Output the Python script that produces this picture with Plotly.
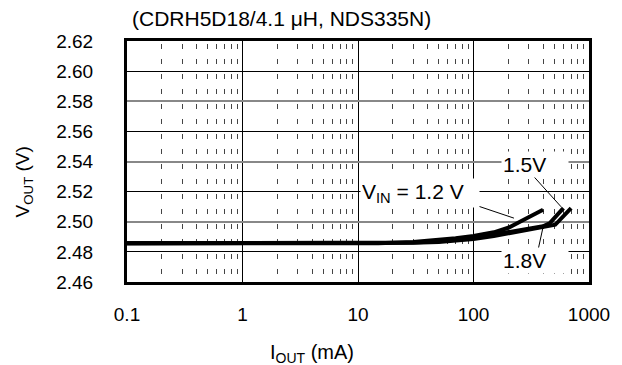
import numpy as np
import plotly.graph_objects as go

# ---- data ----
iout_12 = [0.1, 1, 10, 15, 30, 50, 70, 100, 150, 200, 250, 300, 400]
vout_12 = [2.4857, 2.4857, 2.4857, 2.4858, 2.4865, 2.4878, 2.4890, 2.4905, 2.4930, 2.4960, 2.4995, 2.5030, 2.5080]

iout_15 = [0.1, 1, 10, 15, 30, 50, 70, 100, 150, 200, 300, 400, 460, 600]
vout_15 = [2.4857, 2.4857, 2.4857, 2.4858, 2.4862, 2.4870, 2.4880, 2.4895, 2.4915, 2.4930, 2.4955, 2.4970, 2.4992, 2.5090]

iout_18 = [0.1, 1, 10, 15, 30, 50, 70, 100, 150, 200, 300, 400, 510, 700]
vout_18 = [2.4857, 2.4857, 2.4857, 2.4857, 2.4860, 2.4866, 2.4873, 2.4885, 2.4905, 2.4922, 2.4948, 2.4963, 2.4980, 2.5090]

x_tickvals = [0.1, 1, 10, 100, 1000]
x_ticktext = ["0.1", "1", "10", "100", "1000"]
y_tickvals = [2.46, 2.48, 2.50, 2.52, 2.54, 2.56, 2.58, 2.60, 2.62]
y_ticktext = ["2.46", "2.48", "2.50", "2.52", "2.54", "2.56", "2.58", "2.60", "2.62"]
y_gray_grid = [2.50, 2.54, 2.58]

# label text, label box centre (I, V), leader line (I0, V0) -> (I1, V1)
labels = ["1.5V", "V<sub>IN</sub> = 1.2 V", "1.8V"]
label_x = [338, 34.5, 338]
label_y = [2.5382, 2.5191, 2.4743]
label_w = [64, 116, 64]
lead_x0 = [301, 98.6, 399]
lead_y0 = [2.5337, 2.5116, 2.4960]
lead_x1 = [574, 224, 363]
lead_y1 = [2.5099, 2.5024, 2.4816]

FONT = "Liberation Sans, Arial, sans-serif"

fig = go.Figure()
for xs, ys in [(iout_12, vout_12), (iout_15, vout_15), (iout_18, vout_18)]:
    fig.add_trace(go.Scatter(x=xs, y=ys, mode="lines",
                             line=dict(color="black", width=4),
                             showlegend=False, hoverinfo="skip"))

# gray overlay gridlines
fig.add_trace(go.Scatter(x=[1], y=[2.5], yaxis="y2", mode="markers",
                         marker=dict(opacity=0), showlegend=False, hoverinfo="skip"))

for x0, y0, x1, y1 in zip(lead_x0, lead_y0, lead_x1, lead_y1):
    fig.add_shape(type="line", xref="x", yref="y",
                  x0=x0, y0=y0, x1=x1, y1=y1,
                  line=dict(color="black", width=1), layer="above")

for t, x, y, w in zip(labels, label_x, label_y, label_w):
    fig.add_annotation(x=np.log10(x), y=y, xref="x", yref="y", text=t,
                       showarrow=False, bgcolor="white", width=w, align="left",
                       borderpad=1, font=dict(family=FONT, size=21, color="black"))

fig.add_annotation(text="(CDRH5D18/4.1 μH, NDS335N)", xref="paper", yref="paper",
                   x=0.006, y=1.0, xanchor="left", yanchor="middle", yshift=23,
                   showarrow=False, font=dict(family=FONT, size=21, color="black"))
fig.add_annotation(text="V<sub>OUT</sub> (V)", xref="paper", yref="paper",
                   x=-0.224, y=0.415, xanchor="center", yanchor="middle",
                   textangle=-90, showarrow=False, borderpad=0,
                   font=dict(family=FONT, size=19, color="black"))
fig.add_annotation(text="I<sub>OUT</sub> (mA)", xref="paper", yref="paper",
                   x=0.40, y=-0.297, xanchor="center", yanchor="middle",
                   showarrow=False,
                   font=dict(family=FONT, size=20, color="black"))

fig.update_layout(
    width=614, height=357,
    margin=dict(l=119, r=28, t=33, b=83),
    paper_bgcolor="white", plot_bgcolor="white",
    font=dict(family=FONT, size=19, color="black"),
    xaxis=dict(type="log", range=[-1, 3], tickmode="array",
               tickvals=x_tickvals, ticktext=x_ticktext,
               showgrid=True, gridcolor="black", gridwidth=1,
               minor=dict(dtick="D1", showgrid=True, gridcolor="#444",
                          gridwidth=1, griddash="0px,2.5px,5.5px,7px"),
               showline=True, linecolor="black", linewidth=3, mirror=True,
               ticks="", zeroline=False, ticklabelstandoff=13),
    yaxis=dict(range=[2.46, 2.62], tickmode="array",
               tickvals=y_tickvals, ticktext=y_ticktext,
               showgrid=True, gridcolor="black", gridwidth=1,
               showline=True, linecolor="black", linewidth=3, mirror=True,
               ticks="", zeroline=False, ticklabelstandoff=27),
    yaxis2=dict(range=[2.46, 2.62], overlaying="y", tickmode="array",
                tickvals=y_gray_grid, showticklabels=False,
                showgrid=True, gridcolor="#888", gridwidth=2,
                zeroline=False, showline=False),
)

fig.write_html("out.html")
